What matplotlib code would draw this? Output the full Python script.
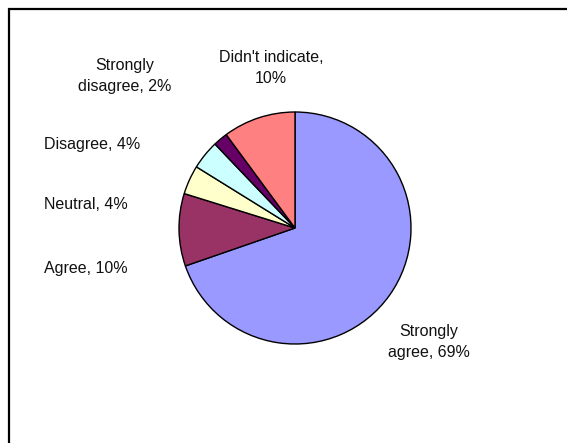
import matplotlib.pyplot as plt
from matplotlib.patches import Rectangle

# Survey responses (percent)
categories = ["Strongly agree", "Agree", "Neutral", "Disagree",
              "Strongly disagree", "Didn't indicate"]
values = [69, 10, 4, 4, 2, 10]
colors = ["#9999FF", "#993366", "#FFFFCC", "#CCFFFF", "#660066", "#FF8080"]
label_texts = ["Strongly\nagree, 69%", "Agree, 10%", "Neutral, 4%",
               "Disagree, 4%", "Strongly\ndisagree, 2%", "Didn't indicate,\n10%"]

W, H = 567, 443
fig = plt.figure(figsize=(W / 100, H / 100), dpi=100)
ax = fig.add_axes([0, 0, 1, 1])

# chart border (right/bottom fall outside the picture)
ax.add_patch(Rectangle((9, -20), W + 20, H - 9 + 20, fill=False,
                       edgecolor="black", linewidth=1.6))

ax.pie(values, colors=colors, startangle=90, counterclock=False,
       center=(295, H - 228), radius=116, frame=True,
       wedgeprops=dict(edgecolor="black", linewidth=1.0))
ax.set_xlim(0, W)
ax.set_ylim(0, H)
ax.axis("off")

# label positions (pixel centres, measured from the top)
label_pos = [(429, 342), (86, 268), (86, 204), (92, 144), (125, 76), (271, 68)]
for txt, (x, y) in zip(label_texts, label_pos):
    ax.text(x, H - y, txt, ha="center", va="center", fontsize=11.5,
            family="Liberation Sans", linespacing=1.5, color="#111111")

fig.savefig("out.png", dpi=100)
